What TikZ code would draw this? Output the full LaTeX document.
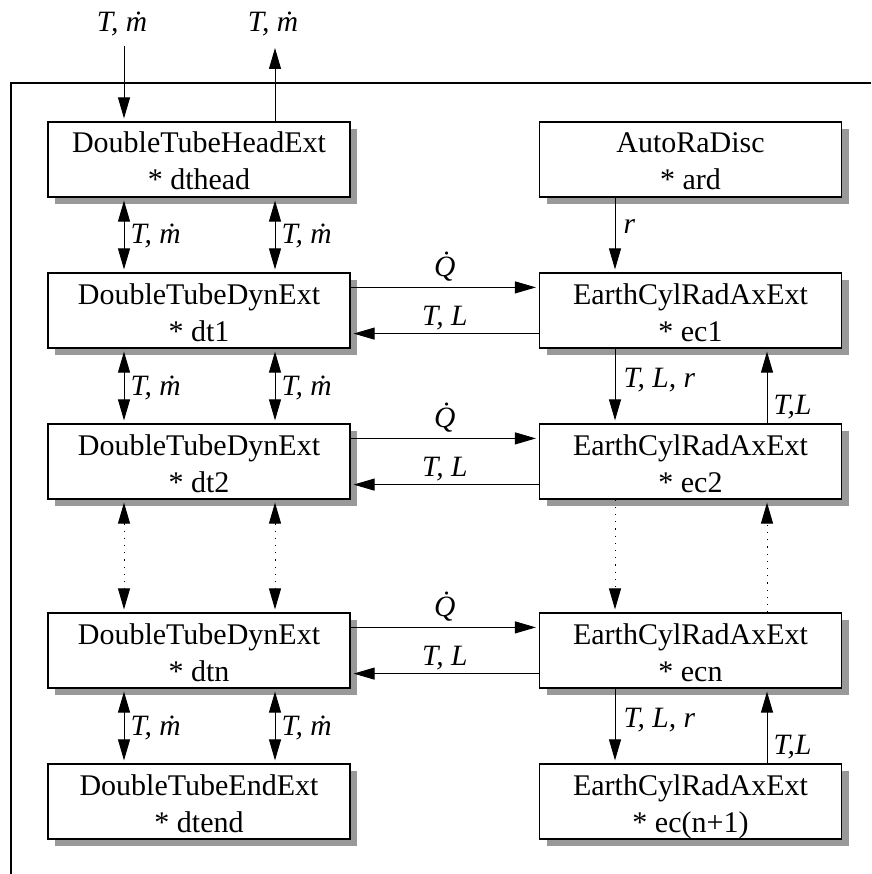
\documentclass[tikz,border=0pt]{standalone}
\usepackage{fontspec}
\setmainfont{Liberation Serif}
\usetikzlibrary{arrows.meta,shadows}

\begin{document}
\begin{tikzpicture}[x=1pt,y=1pt,
  block/.style={draw, line width=1.2pt, fill=white,
    minimum width=302pt, minimum height=75pt,
    inner xsep=0pt, inner ysep=0pt, text height=68pt, text depth=7pt,
    align=center, font=\fontsize{30}{37}\selectfont,
    drop shadow={shadow xshift=7pt, shadow yshift=-7pt, fill=black!40, opacity=1}},
  lbl/.style={font=\fontsize{29.5}{30}\selectfont\itshape, inner sep=0pt},
  tip/.tip={Triangle[length=21pt,width=12pt]},
  conn/.style={line width=1pt, -tip, shorten >=3pt},
  twoway/.style={line width=1pt, tip-tip, shorten >=3pt, shorten <=3pt},
  dotline/.style={dash pattern=on 1.2pt off 6pt}
]
\useasboundingbox (0,0) rectangle (871,-874);

% enclosing frame (open to the right and bottom)
\draw[line width=1.2pt] (871,-83) -- (11,-83) -- (11,-874);

% blocks
\node[block] (dthead) at (199,-159.5)   {DoubleTubeHeadExt\\* dthead};
\node[block] (ard)    at (690.5,-159.5) {AutoRaDisc\\* ard};
\node[block] (dt1)    at (199,-310.5)   {DoubleTubeDynExt\\* dt1};
\node[block] (ec1)    at (690.5,-310.5) {EarthCylRadAxExt\\* ec1};
\node[block] (dt2)    at (199,-461.5)   {DoubleTubeDynExt\\* dt2};
\node[block] (ec2)    at (690.5,-461.5) {EarthCylRadAxExt\\* ec2};
\node[block] (dtn)    at (199,-650.5)   {DoubleTubeDynExt\\* dtn};
\node[block] (ecn)    at (690.5,-650.5) {EarthCylRadAxExt\\* ecn};
\node[block] (dtend)  at (199,-801.5)   {DoubleTubeEndExt\\* dtend};
\node[block] (ecend)  at (690.5,-801.5) {EarthCylRadAxExt\\* ec(n+1)};

% inlet / outlet of the head
\coordinate (inT)  at (124,-46);
\coordinate (outT) at (275,-48);
\node[lbl, anchor=base] (inlbl)  at (122,-32) {T, \.{m}};
\node[lbl, anchor=base] (outlbl) at (273,-32) {T, \.{m}};
\draw[conn] (inT) -- ([xshift=-75pt]dthead.north);
\draw[conn, shorten >=0pt] ([xshift=76pt]dthead.north) -- (outT);

% double tube chain
\foreach \a/\b in {dthead/dt1, dt1/dt2, dtn/dtend}{
  \draw[twoway] ([xshift=-75pt]\a.south) -- node[lbl, midway, anchor=base west, xshift=6pt, yshift=-9pt] {T, \.{m}} ([xshift=-75pt]\b.north);
  \draw[twoway] ([xshift=76pt]\a.south) -- node[lbl, midway, anchor=base west, xshift=6pt, yshift=-9pt] {T, \.{m}} ([xshift=76pt]\b.north);
}
\draw[twoway, dotline] ([xshift=-75pt]dt2.south) -- ([xshift=-75pt]dtn.north);
\draw[twoway, dotline] ([xshift=76pt]dt2.south) -- ([xshift=76pt]dtn.north);

% radius discretisation
\draw[conn] ([xshift=-75.5pt]ard.south) -- node[lbl, midway, anchor=base west, xshift=8pt, yshift=1pt] {r} ([xshift=-75.5pt]ec1.north);

% earth cylinder chain
\foreach \a/\b in {ec1/ec2, ecn/ecend}{
  \draw[conn] ([xshift=-75.5pt]\a.south) -- node[lbl, midway, anchor=base west, xshift=8pt, yshift=-1pt] {T, L, r} ([xshift=-75.5pt]\b.north);
  \draw[conn] ([xshift=76.5pt]\b.north) -- node[lbl, pos=0, anchor=base west, xshift=6pt, yshift=9pt] {T,L} ([xshift=76.5pt]\a.south);
}
\draw[conn, dotline] ([xshift=-75.5pt]ec2.south) -- ([xshift=-75.5pt]ecn.north);
\draw[conn, dotline] ([xshift=76.5pt]ecn.north) -- ([xshift=76.5pt]ec2.south);

% heat flux and returned temperature between tube and earth
\foreach \a/\b in {dt1/ec1, dt2/ec2, dtn/ecn}{
  \draw[conn] ([yshift=-15pt]\a.north east) -- node[lbl, midway, anchor=base, yshift=11pt] {\.{Q}} ([yshift=-15pt]\b.north west);
  \draw[conn] ([yshift=15pt]\b.south west) -- node[lbl, midway, anchor=base, yshift=8pt] {T, L} ([yshift=15pt]\a.south east);
}
\end{tikzpicture}
\end{document}
